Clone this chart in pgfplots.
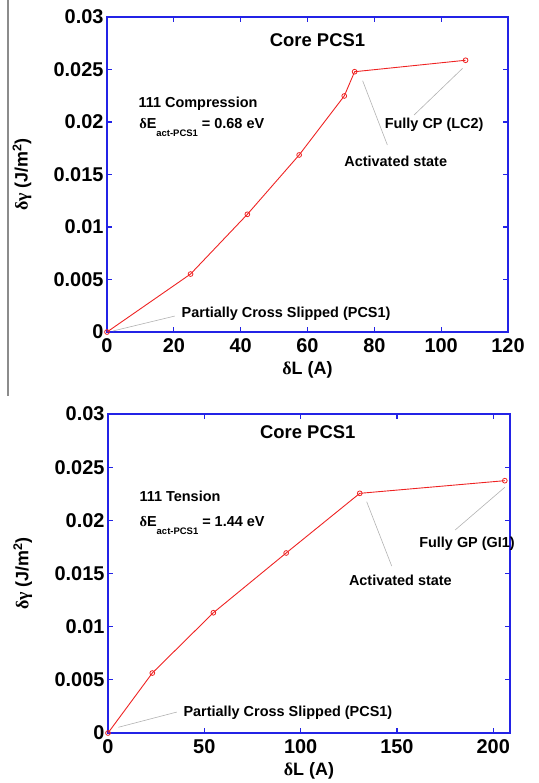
\documentclass[border=0pt]{standalone}
\usepackage{fontspec}
\setmainfont{Liberation Sans}
\newfontfamily\grk{Liberation Serif}
\usepackage{pgfplots}
\pgfplotsset{compat=1.18}
\definecolor{axblue}{RGB}{35,35,230}
\definecolor{lred}{RGB}{238,35,35}
\newcommand{\dl}{{\grk δ}}
\newcommand{\annfont}{\fontsize{14.5}{17}\selectfont\bfseries}
\pgfplotsset{mystyle/.style={
  scale only axis,
  axis line style={axblue, line width=1.2pt},
  every tick/.style={axblue, line width=1.2pt},
  major tick length=5pt,
  tick align=inside,
  tick pos=both,
  ticklabel style={font=\fontsize{20}{22}\selectfont\bfseries, text=black},
  xticklabel style={yshift=-3bp},
  /pgf/number format/assume math mode=true,
  scaled y ticks=false,
  yticklabel style={/pgf/number format/fixed, /pgf/number format/precision=3},
  ymin=0, ymax=0.03,
  ytick={0,0.005,0.01,0.015,0.02,0.025,0.03},
  label style={font=\fontsize{18}{20}\selectfont\bfseries},
  xlabel={\dl L (A)},
  ylabel={\dl\kern-0.5pt{\grk γ} (J/m\textsuperscript{2})},
  xlabel style={at={(axis description cs:0.5,-0.12)}, anchor=center},
  ylabel style={at={(axis description cs:-0.212,0.5)}, anchor=center},
  clip=false,
}}
\begin{document}
\begin{tikzpicture}
\path[use as bounding box] (0bp,0bp) rectangle (539bp,-783bp);
\draw[black!45, line width=1.5bp] (8bp,0bp) -- (8bp,-396bp);

\begin{axis}[mystyle, at={(107bp,-332bp)}, anchor=south west,
  width=401bp, height=315bp,
  xmin=0, xmax=120, xtick={0,20,40,60,80,100,120}]
\addplot[lred, line width=0.9pt, mark=o, mark size=2.4pt, mark options={lred, line width=0.8pt}] coordinates {
 (0,0) (25,0.00552) (42,0.01121) (57.5,0.01686) (71,0.02248) (74.1,0.02479) (107.3,0.02588)};
\draw[gray!60, line width=0.6pt] (axis cs:1.8,0.0001) -- (axis cs:20.3,0.00152);
\draw[gray!60, line width=0.6pt] (axis cs:76.5,0.02393) -- (axis cs:83.9,0.01781);
\draw[gray!60, line width=0.6pt] (axis cs:106.4,0.02511) -- (axis cs:91.9,0.02067);
\node[font=\fontsize{18.5}{20}\selectfont\bfseries] at (axis cs:63,0.0278) {Core PCS1};
\node[font=\annfont, anchor=west, inner sep=0pt] at (axis cs:9.4,0.0217) {111 Compression};
\node[font=\annfont, anchor=base west, inner sep=0pt] at (axis cs:9.6,0.0194) {\dl E\raisebox{-8bp}{\fontsize{9.5}{11}\selectfont act-PCS1} = 0.68 eV};
\node[font=\annfont] at (axis cs:86.4,0.01629) {Activated state};
\node[font=\annfont] at (axis cs:97.9,0.01971) {Fully CP (LC2)};
\node[font=\annfont, anchor=west, inner sep=0pt] at (axis cs:22.3,0.00178) {Partially Cross Slipped (PCS1)};
\end{axis}

\begin{axis}[mystyle, at={(108bp,-733bp)}, anchor=south west,
  width=402bp, height=319bp,
  xmin=0, xmax=208.7, xtick={0,50,100,150,200}]
\addplot[lred, line width=0.9pt, mark=o, mark size=2.4pt, mark options={lred, line width=0.8pt}] coordinates {
 (0,0) (23,0.00564) (54.7,0.01131) (92.5,0.01693) (130.7,0.02254) (206,0.02373)};
\draw[gray!60, line width=0.6pt] (axis cs:5.4,0.00054) -- (axis cs:35.7,0.00197);
\draw[gray!60, line width=0.6pt] (axis cs:134.3,0.02175) -- (axis cs:147.3,0.0157);
\draw[gray!60, line width=0.6pt] (axis cs:206,0.02311) -- (axis cs:180.2,0.01909);
\node[font=\fontsize{18.5}{20}\selectfont\bfseries] at (axis cs:103.7,0.02834) {Core PCS1};
\node[font=\annfont, anchor=west, inner sep=0pt] at (axis cs:16.3,0.02229) {111 Tension};
\node[font=\annfont, anchor=base west, inner sep=0pt] at (axis cs:16.3,0.0194) {\dl E\raisebox{-8bp}{\fontsize{9.5}{11}\selectfont act-PCS1} = 1.44 eV};
\node[font=\annfont] at (axis cs:151.8,0.01432) {Activated state};
\node[font=\annfont] at (axis cs:186.4,0.01777) {Fully GP (GI1)};
\node[font=\annfont, anchor=west, inner sep=0pt] at (axis cs:39.1,0.00191) {Partially Cross Slipped (PCS1)};
\end{axis}
\end{tikzpicture}
\end{document}
